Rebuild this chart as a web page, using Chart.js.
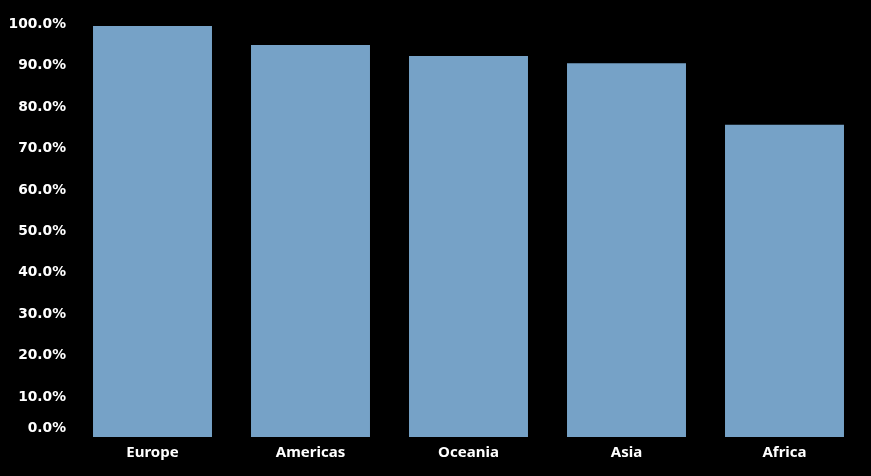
<!DOCTYPE html>
<html>
<head>
<meta charset="utf-8">
<script src="https://cdn.jsdelivr.net/npm/chart.js@4"></script>
<style>
  html, body { margin: 0; padding: 0; background: #000; }
  #wrap { width: 871px; height: 476px; }
</style>
</head>
<body>
<div id="wrap"><canvas id="regionChart" width="871" height="476"></canvas></div>
<script>
// du lieu doc tu hinh
const regions = ['Europe', 'Americas', 'Oceania', 'Asia', 'Africa'];
const shareValues = [99.3, 94.7, 92.0, 90.3, 75.4];
const yTickValues = [0, 10, 20, 30, 40, 50, 60, 70, 80, 90, 100];

const barColor = '#76a2c7';
const textColor = '#ffffff';

function formatPct(v) {
    return v.toFixed(1) + '%';
}

new Chart(document.getElementById('regionChart'), {
    type: 'bar',
    data: {
        labels: regions,
        datasets: [{
            data: shareValues,
            backgroundColor: barColor,
            borderWidth: 0,
            categoryPercentage: 1,
            barPercentage: 0.753
        }]
    },
    options: {
        responsive: false,
        animation: false,
        layout: { padding: { left: 0, right: 7.5, top: 23, bottom: 0 } },
        plugins: {
            legend: { display: false },
            tooltip: { enabled: false }
        },
        scales: {
            x: {
                grid: { display: false, drawTicks: false },
                border: { display: false },
                ticks: {
                    color: textColor,
                    padding: 7,
                    font: { family: 'Noto Sans', weight: 'bold', size: 15 }
                },
                afterFit: function(scale) { scale.height = 39; }
            },
            y: {
                min: 0,
                max: 100,
                grid: { display: false, drawTicks: false },
                border: { display: false },
                afterBuildTicks: function(scale) {
                    scale.ticks = yTickValues.map(v => ({ value: v }));
                },
                ticks: {
                    color: textColor,
                    padding: 7.5,
                    labelOffset: 1.5,
                    autoSkip: false,
                    font: { family: 'DejaVu Sans', weight: 'bold', size: 13.8, lineHeight: 1.5 },
                    // nhan 0.0% bi day len tren giong hinh goc
                    callback: function(value) {
                        return value === 0 ? [formatPct(value), ''] : formatPct(value);
                    }
                },
                afterFit: function(scale) { scale.width = 73.5; }
            }
        }
    }
});
</script>
</body>
</html>
